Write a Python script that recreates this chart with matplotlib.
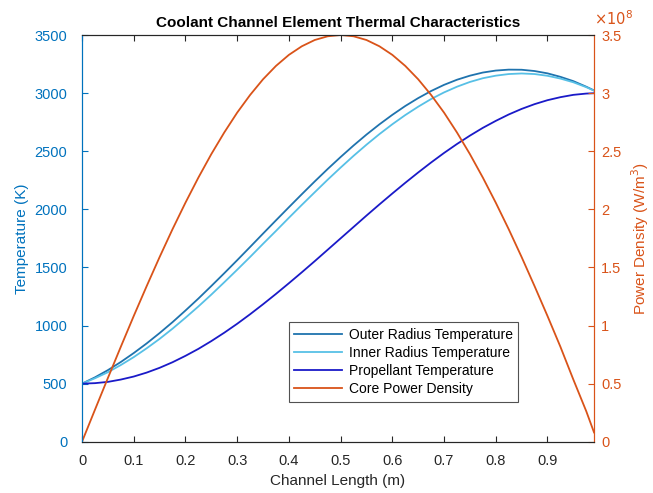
import matplotlib.pyplot as plt

plt.rcParams['font.family'] = ['Liberation Sans', 'DejaVu Sans']

# posicion axial en el canal (m)
longitud = [0.0, 0.025, 0.05, 0.075, 0.10, 0.125, 0.15, 0.175, 0.20, 0.225,
            0.25, 0.275, 0.30, 0.325, 0.35, 0.375, 0.40, 0.425, 0.45, 0.475,
            0.50, 0.525, 0.55, 0.575, 0.60, 0.625, 0.65, 0.675, 0.70, 0.725,
            0.75, 0.775, 0.80, 0.825, 0.85, 0.875, 0.90, 0.925, 0.95, 0.975, 0.99]

# temperaturas (K)
t_radio_ext = [500, 554, 616, 686, 763, 846, 935, 1029, 1129, 1232,
               1340, 1450, 1562, 1676, 1791, 1905, 2018, 2130, 2240, 2347,
               2450, 2549, 2643, 2731, 2813, 2889, 2957, 3018, 3071, 3115,
               3150, 3177, 3194, 3202, 3201, 3190, 3170, 3140, 3103, 3055, 3023]
t_radio_int = [500, 546, 598, 660, 728, 804, 885, 973, 1067, 1164,
               1266, 1372, 1480, 1590, 1703, 1814, 1927, 2038, 2147, 2255,
               2359, 2460, 2556, 2647, 2732, 2811, 2883, 2949, 3006, 3055,
               3096, 3128, 3150, 3164, 3169, 3164, 3149, 3125, 3093, 3051, 3021]
t_propelente = [500, 504, 515, 535, 561, 595, 636, 684, 739, 799,
                866, 938, 1015, 1097, 1183, 1272, 1364, 1458, 1554, 1652,
                1750, 1848, 1946, 2042, 2136, 2228, 2317, 2403, 2485, 2562,
                2634, 2701, 2761, 2816, 2864, 2905, 2939, 2965, 2985, 2996, 2999]

# densidad de potencia del nucleo (x1e8 W/m^3)
potencia = [0.0, 0.275, 0.548, 0.817, 1.082, 1.339, 1.589, 1.829, 2.057, 2.273,
            2.475, 2.661, 2.832, 2.984, 3.119, 3.234, 3.329, 3.403, 3.457, 3.489,
            3.5, 3.489, 3.457, 3.403, 3.329, 3.234, 3.119, 2.984, 2.832, 2.661,
            2.475, 2.273, 2.057, 1.829, 1.589, 1.339, 1.082, 0.817, 0.535, 0.262, 0.08]

azul = '#0072BD'
naranja = '#D95319'
gris = '#262626'

fig = plt.figure(figsize=(6.53, 4.93), dpi=100)
ax = fig.add_axes([0.1256, 0.104, 0.7841, 0.825])
ax2 = ax.twinx()

l1, = ax.plot(longitud, t_radio_ext, color='#1F73AE', lw=1.3, label='Outer Radius Temperature')
l2, = ax.plot(longitud, t_radio_int, color='#57C0E6', lw=1.3, label='Inner Radius Temperature')
l3, = ax.plot(longitud, t_propelente, color='#1A1AC8', lw=1.3, label='Propellant Temperature')
l4, = ax2.plot(longitud, potencia, color=naranja, lw=1.3, label='Core Power Density')

ax.set_xlim(0, 0.99)
ax.set_ylim(0, 3500)
ax2.set_ylim(0, 3.5)
ax.set_xticks([0, 0.1, 0.2, 0.3, 0.4, 0.5, 0.6, 0.7, 0.8, 0.9])
ax.set_xticklabels(['0', '0.1', '0.2', '0.3', '0.4', '0.5', '0.6', '0.7', '0.8', '0.9'])
ax.set_yticks(range(0, 3501, 500))
ax2.set_yticks([0, 0.5, 1, 1.5, 2, 2.5, 3, 3.5])
ax2.set_yticklabels(['0', '0.5', '1', '1.5', '2', '2.5', '3', '3.5'])

# ejes estilo MATLAB: ticks hacia dentro en los cuatro lados
ax.tick_params(axis='x', direction='in', length=4, colors=gris, labelsize=10.5, top=True, pad=9)
ax.tick_params(axis='y', direction='in', length=4, colors=azul, labelsize=10.5, pad=10.5)
ax2.tick_params(axis='y', direction='in', length=4, colors=naranja, labelsize=10.5, pad=5)

for a in (ax, ax2):
    a.spines['top'].set_color(gris)
    a.spines['bottom'].set_color(gris)
    a.spines['left'].set_color(azul)
    a.spines['right'].set_color(naranja)
    for s in a.spines.values():
        s.set_linewidth(0.8)

ax.set_xlabel('Channel Length (m)', fontsize=11, color=gris, labelpad=4)
ax.set_ylabel('Temperature (K)', fontsize=11, color=azul, labelpad=4)
ax2.set_ylabel('Power Density (W/m$^3$)', fontsize=11, color=naranja, labelpad=6)
ax.set_title('Coolant Channel Element Thermal Characteristics', fontsize=11, fontweight='bold', pad=6)

ax2.text(1.0, 1.018, r'$\times10^{8}$', transform=ax2.transAxes, color=naranja,
         fontsize=10.5, ha='left', va='bottom')

leg = ax2.legend(handles=[l1, l2, l3, l4], loc='upper left', bbox_to_anchor=(0.404, 0.294),
                 borderaxespad=0, fancybox=False, edgecolor=gris, fontsize=10,
                 handlelength=3.4, handletextpad=0.5, labelspacing=0.3, borderpad=0.4)
leg.get_frame().set_linewidth(0.8)

fig.savefig('out.png', dpi=100)
